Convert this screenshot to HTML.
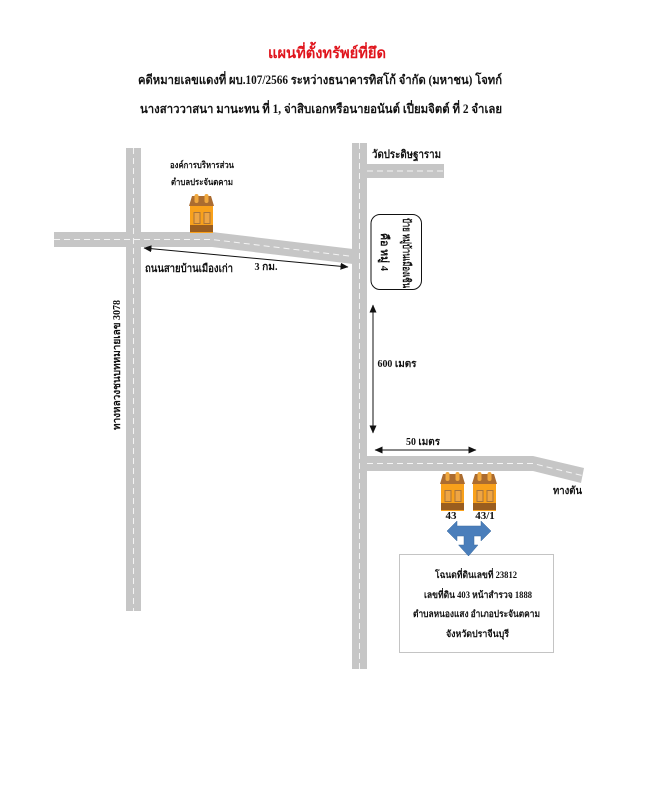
<!DOCTYPE html>
<html><head><meta charset="utf-8">
<style>
html,body{margin:0;padding:0;background:#fff}
svg{display:block}
text{font-family:"Liberation Serif","Noto Serif CJK SC","DejaVu Serif",serif;font-weight:bold;fill:#111}
</style></head>
<body>
<svg width="664" height="800" viewBox="0 0 664 800" xmlns="http://www.w3.org/2000/svg">
<defs>
<g id="h">
  <rect x="1" y="12" width="23" height="28" fill="#f9a11b"/>
  <polygon points="3,3 22,3 25,13 0,13" fill="#ab6c30"/>
  <rect x="5.500" y="1" width="4" height="9" rx="2" fill="#f0a83e"/>
  <rect x="15.500" y="1" width="4" height="9" rx="2" fill="#f0a83e"/>
  <rect x="4.500" y="19" width="7" height="12" fill="#a9743a"/>
  <rect x="5.500" y="20" width="5" height="10" fill="#eea544"/>
  <rect x="14.500" y="19" width="7" height="12" fill="#a9743a"/>
  <rect x="15.500" y="20" width="5" height="10" fill="#eea544"/>
  <rect x="1" y="32" width="23" height="7" fill="#9a5d1f"/>
</g>
<marker id="a" markerWidth="8" markerHeight="7" refX="7.500" refY="3.500" orient="auto-start-reverse" markerUnits="userSpaceOnUse"><path d="M0 0L8 3.500L0 7z" fill="#111"/></marker>
</defs>

<text x="327" y="58" font-size="15" text-anchor="middle" textLength="118" lengthAdjust="spacingAndGlyphs" style="fill:#e0141c">แผนที่ตั้งทรัพย์ที่ยึด</text>
<text x="320" y="84" font-size="12.500" text-anchor="middle" textLength="364" lengthAdjust="spacingAndGlyphs">คดีหมายเลขแดงที่ ผบ.107/2566 ระหว่างธนาคารทิสโก้ จำกัด (มหาชน) โจทก์</text>
<text x="321" y="113" font-size="12.500" text-anchor="middle" textLength="362" lengthAdjust="spacingAndGlyphs">นางสาววาสนา  มานะทน ที่ 1, จ่าสิบเอกหรือนายอนันต์  เปี่ยมจิตต์ ที่ 2 จำเลย</text>

<!-- roads -->
<g fill="#c6c6c6">
  <rect x="126" y="148" width="15" height="463"/>
  <polygon points="54,232 212,232 353,249 353,264 212,247 54,247"/>
  <rect x="352" y="143" width="15" height="526"/>
  <rect x="367" y="164" width="77" height="14"/>
  <polygon points="367,456 533,456 584,468 581,483 533,471 367,471"/>
</g>
<g fill="none" stroke="#f4f4f4" stroke-width="1" stroke-dasharray="6 4">
  <path d="M133.500 148V611"/>
  <path d="M54 239.500H212L353 256.500"/>
  <path d="M359.500 143V669"/>
  <path d="M367 171H444"/>
  <path d="M367 463.500H533L582 475.500"/>
</g>

<!-- dimension arrows -->
<g stroke="#111" stroke-width="1" fill="none">
  <path d="M144 248L348 267" marker-start="url(#a)" marker-end="url(#a)"/>
  <path d="M373 305V433" marker-start="url(#a)" marker-end="url(#a)"/>
  <path d="M375 450H476" marker-start="url(#a)" marker-end="url(#a)"/>
</g>

<!-- labels -->
<text x="202" y="168" font-size="9" text-anchor="middle" textLength="64" lengthAdjust="spacingAndGlyphs">องค์การบริหารส่วน</text>
<text x="202" y="185" font-size="9" text-anchor="middle" textLength="62" lengthAdjust="spacingAndGlyphs">ตำบลประจันตคาม</text>
<text x="189" y="272" font-size="11" text-anchor="middle" textLength="88" lengthAdjust="spacingAndGlyphs">ถนนสายบ้านเมืองเก่า</text>
<text x="266" y="270" font-size="10.500" text-anchor="middle" textLength="23" lengthAdjust="spacingAndGlyphs">3 กม.</text>
<text x="372" y="158" font-size="11" textLength="69" lengthAdjust="spacingAndGlyphs">วัดประดิษฐาราม</text>
<text x="397" y="367" font-size="10.500" text-anchor="middle" textLength="39" lengthAdjust="spacingAndGlyphs">600 เมตร</text>
<text x="423" y="445" font-size="10.500" text-anchor="middle" textLength="34" lengthAdjust="spacingAndGlyphs">50 เมตร</text>
<text x="567.500" y="494" font-size="10.500" text-anchor="middle" textLength="29" lengthAdjust="spacingAndGlyphs">ทางตัน</text>
<text x="451" y="519" font-size="11" text-anchor="middle">43</text>
<text x="485" y="519" font-size="11" text-anchor="middle">43/1</text>
<text transform="translate(120,365) rotate(-90)" font-size="10.500" text-anchor="middle" textLength="130" lengthAdjust="spacingAndGlyphs">ทางหลวงชนบทหมายเลข 3078</text>

<!-- sign -->
<rect x="371" y="214.500" width="50.500" height="75" rx="9" fill="#fff" stroke="#111" stroke-width="1"/>
<text transform="translate(403,253) rotate(90)" font-size="11" text-anchor="middle" textLength="70" lengthAdjust="spacingAndGlyphs">ป้าย หมู่บ้านเมืองเซิน</text>
<text transform="translate(381,252) rotate(90)" font-size="11" text-anchor="middle" textLength="38" lengthAdjust="spacingAndGlyphs">คือ หมู่ 4</text>

<!-- houses -->
<use href="#h" x="189" y="193"/>
<use href="#h" x="440" y="471"/>
<use href="#h" x="472" y="471"/>

<!-- info box -->
<rect x="399.500" y="554.500" width="154" height="98" fill="#fff" stroke="#c4c4c4" stroke-width="1"/>
<text x="476" y="578" font-size="9.500" text-anchor="middle" textLength="82" lengthAdjust="spacingAndGlyphs">โฉนดที่ดินเลขที่ 23812</text>
<text x="478" y="598" font-size="9.500" text-anchor="middle" textLength="108" lengthAdjust="spacingAndGlyphs">เลขที่ดิน 403 หน้าสำรวจ 1888</text>
<text x="476.500" y="617" font-size="9.500" text-anchor="middle" textLength="127" lengthAdjust="spacingAndGlyphs">ตำบลหนองแสง อำเภอประจันตคาม</text>
<text x="477.500" y="637" font-size="9.500" text-anchor="middle" textLength="63" lengthAdjust="spacingAndGlyphs">จังหวัดปราจีนบุรี</text>

<!-- T arrow -->
<polygon points="447,531 457,521 457,526 481,526 481,521 491,531 481,541 481,536 474,536 474,545 478,545 468.500,556 458.500,545 464,545 464,536 457,536 457,541" fill="#4a7ebb" stroke="#3a6a9f" stroke-width="0.500"/>
</svg>
</body></html>
